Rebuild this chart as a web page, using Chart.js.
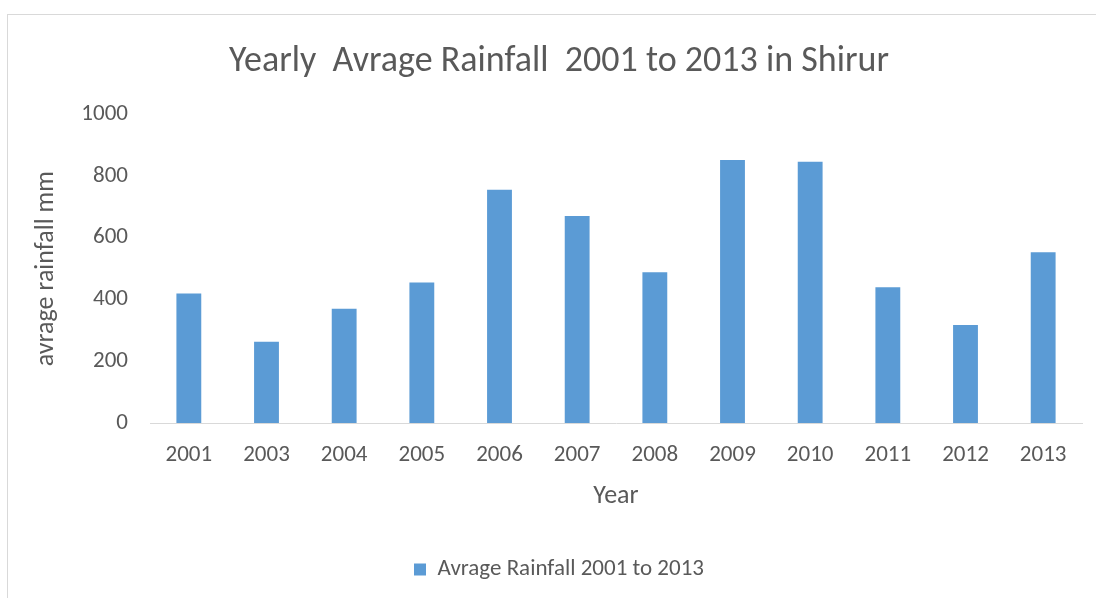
<!DOCTYPE html>
<html>
<head>
<meta charset="utf-8">
<script src="https://cdn.jsdelivr.net/npm/chart.js@4"></script>
<style>
  body { margin: 0; background: #fff; }
  #box {
    position: absolute; left: 7px; top: 14px;
    width: 1095px; height: 590px;
    border-left: 1px solid #d9d9d9; border-top: 1px solid #d9d9d9;
  }
</style>
</head>
<body>
<div id="box"><canvas id="canvas" width="1089" height="584"></canvas></div>
<script>
"use strict";
var years = ["2001", "2003", "2004", "2005", "2006", "2007", "2008", "2009", "2010", "2011", "2012", "2013"];
var rainfall = [419, 263, 370, 455, 755, 670, 488, 852, 846, 440, 317, 553];
var seriesName = "Avrage Rainfall 2001 to 2013";

var fontName = "Carlito, 'Liberation Sans Narrow', 'Open Sans', sans-serif";
Chart.defaults.font.family = fontName;
Chart.defaults.color = "#595959";

const ctx = document.getElementById('canvas');

new Chart(ctx, {
  type: 'bar',
  data: {
    labels: years,
    datasets: [{
      label: seriesName,
      data: rainfall,
      backgroundColor: "#5b9bd5",
      borderWidth: 0,
      barPercentage: 0.64,
      categoryPercentage: 0.5
    }]
  },
  options: {
    responsive: false,
    animation: false,
    layout: {
      padding: { left: 28, right: 15, top: 0, bottom: 8 }
    },
    plugins: {
      title: {
        display: true,
        text: "Yearly  Avrage Rainfall  2001 to 2013 in Shirur",
        color: "#595959",
        font: { size: 36, weight: 'normal' },
        padding: { top: 25, bottom: 31 }
      },
      legend: {
        position: 'bottom',
        labels: {
          boxWidth: 12,
          boxHeight: 12,
          font: { size: 23 },
          padding: 10
        }
      },
      tooltip: { enabled: false }
    },
    scales: {
      y: {
        min: 0,
        max: 1000,
        afterFit: function(s) { s.width = 114; },
        ticks: {
          stepSize: 200,
          padding: 22,
          font: { size: 23 },
          callback: function(v) { return String(v); }
        },
        grid: { display: false, drawTicks: false },
        border: { display: false },
        title: {
          display: true,
          text: "avrage rainfall mm",
          font: { size: 26 },
          padding: { top: -5, bottom: 0 }
        }
      },
      x: {
        afterFit: function(s) { s.height = 125; },
        ticks: { padding: 18, font: { size: 23 } },
        grid: { display: false, drawTicks: false },
        border: { display: true, color: "#d9d9d9" },
        title: {
          display: true,
          text: "Year",
          font: { size: 26 },
          padding: { top: 0, bottom: 36 }
        }
      }
    }
  }
});
</script>
</body>
</html>
